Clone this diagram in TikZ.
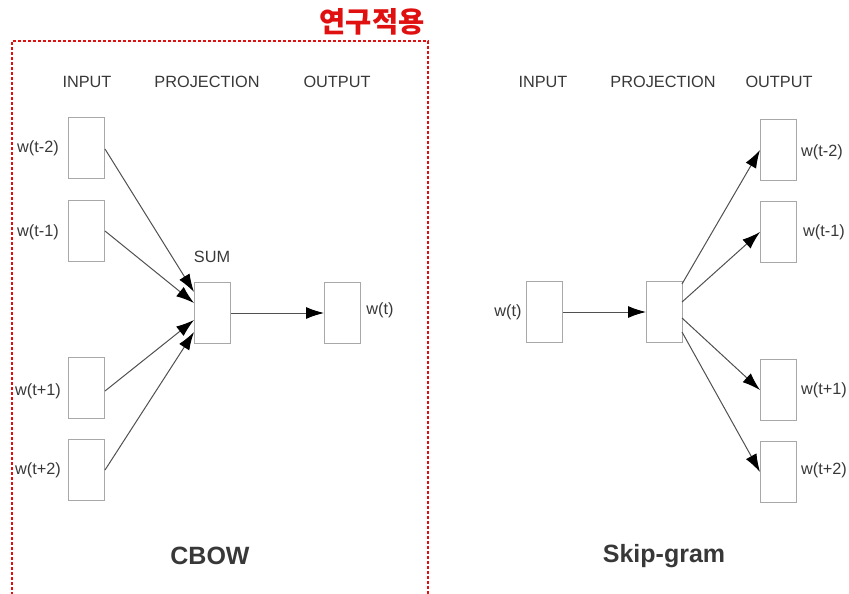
\documentclass[tikz,border=0pt]{standalone}
\usepackage{fontspec}
\setmainfont{Liberation Sans}
\newfontfamily\krfont{Noto Sans CJK KR}
\usetikzlibrary{arrows.meta}
\definecolor{txtgray}{HTML}{383838}
\definecolor{boxgray}{HTML}{A8A8A8}
\definecolor{linegray}{HTML}{505050}
\definecolor{markred}{HTML}{E01010}
\begin{document}
\begin{tikzpicture}[x=1pt,y=-1pt,
  wordbox/.style={draw=boxgray,line width=1pt,fill=white,minimum width=36pt,minimum height=61pt,inner sep=0pt,anchor=north west},
  lbl/.style={text=txtgray,font=\fontsize{16.3}{19}\selectfont,inner sep=0pt},
  title/.style={text=txtgray,font=\fontsize{25}{29}\selectfont\bfseries,inner sep=0pt},
  conn/.style={draw=linegray,line width=1pt,-{Latex[length=18pt,width=12pt,color=black,fill=black]}}]
\useasboundingbox (0,0) rectangle (849,594);

% study-scope frame
\draw[markred,line width=1.1pt,dash pattern=on 3pt off 2pt] (12,600) -- (12,41) -- (428,41) -- (428,600);
\node[text=markred,font=\krfont\fontsize{28.5}{32}\selectfont\bfseries,inner sep=0pt] (mark) at (372,22) {연구적용};

% ---------------- CBOW ----------------
\node[lbl] (cin)  at (87,82)  {INPUT};
\node[lbl] (cpr)  at (207,82) {PROJECTION};
\node[lbl] (cout) at (337,82) {OUTPUT};

\node[wordbox] (cm2) at (68,117) {};
\node[wordbox] (cm1) at (68,200) {};
\node[wordbox] (cp1) at (68,357) {};
\node[wordbox] (cp2) at (68,439) {};
\node[wordbox] (csum) at (194,282) {};
\node[wordbox] (cw) at (324,282) {};

\node[lbl] (lcm2) at (38,148) {w(t-2)};
\node[lbl] (lcm1) at (38,232) {w(t-1)};
\node[lbl] (lcp1) at (38,391) {w(t+1)};
\node[lbl] (lcp2) at (38,470) {w(t+2)};
\node[lbl] (lsum) at (212,257) {SUM};
\node[lbl] (lcw)  at (380,310) {w(t)};

\coordinate (sa) at (194,292);
\coordinate (sb) at (194,303);
\coordinate (sc) at (194,320);
\coordinate (sd) at (194,332);
\draw[conn] ([yshift=-1pt]cm2.east) -- (sa);
\draw[conn] (cm1.east) -- (sb);
\draw[conn] ([yshift=-3pt]cp1.east) -- (sc);
\draw[conn] (cp2.east) -- (sd);
\draw[conn] (csum.east) -- (cw.west);

\node[title] (cbow) at (210,556) {CBOW};

% ---------------- Skip-gram ----------------
\node[lbl] (sin)  at (543,82) {INPUT};
\node[lbl] (spr)  at (663,82) {PROJECTION};
\node[lbl] (sout) at (779,82) {OUTPUT};

\node[wordbox] (sw) at (526,281) {};
\node[wordbox] (sproj) at (646,281) {};
\node[wordbox] (sm2) at (760,119) {};
\node[wordbox] (sm1) at (760,201) {};
\node[wordbox] (sp1) at (760,359) {};
\node[wordbox] (sp2) at (760,441) {};

\node[lbl] (lsw)  at (508,312) {w(t)};
\node[lbl] (lsm2) at (822,152) {w(t-2)};
\node[lbl] (lsm1) at (824,232) {w(t-1)};
\node[lbl] (lsp1) at (824,390) {w(t+1)};
\node[lbl] (lsp2) at (824,470) {w(t+2)};

\coordinate (pa) at (682,284);
\coordinate (pb) at (682,302);
\coordinate (pc) at (682,318);
\coordinate (pd) at (682,332);
\draw[conn] (sw.east) -- (sproj.west);
\draw[conn] (pa) -- (sm2.west);
\draw[conn] (pb) -- (sm1.west);
\draw[conn] (pc) -- (sp1.west);
\draw[conn] (pd) -- (sp2.west);

\node[title] (skip) at (664,556) {Skip-gram};
\end{tikzpicture}
\end{document}
